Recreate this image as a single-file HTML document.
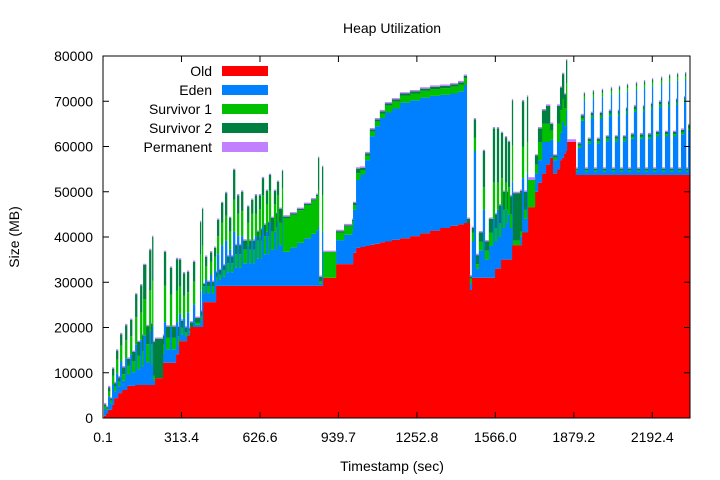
<!DOCTYPE html>
<html><head><meta charset="utf-8"><style>
html,body{margin:0;padding:0;background:#fff;}
svg{display:block;font-family:"Liberation Sans",sans-serif;}
</style></head><body>
<svg id="chart" width="720" height="480" viewBox="0 0 720 480" xmlns="http://www.w3.org/2000/svg">
<rect x="0" y="0" width="720" height="480" fill="#fff"/>
<g id="plot"></g>
<g id="axes"></g>
<text x="392" y="33" font-size="14" text-anchor="middle">Heap Utilization</text>
<text x="392" y="471" font-size="14" text-anchor="middle">Timestamp (sec)</text>
<text x="19" y="237" font-size="14" text-anchor="middle" transform="rotate(-90 19 237)">Size (MB)</text>
<g id="legend"></g>
</svg>
<script>
const times = [0,4,12,20,28,36,44,52,60,68,76,88,96,108,116,128,136,148,156,160,172,184,192,196,200,207,
239,243,251,267,275,291,299,303,311,319,327,335,343,347,359,367,387,391,395,
399,407,415,427,435,443,
451,455,463,471,479,487,495,503,511,519,527,535,543,551,559,575,583,591,599,606,614,622,630,634,642,650,658,662,670,682,690,694,702,714,
718,746,774,802,830,850,858,862,874,878,930,962,994,
998,1010,1026,1046,1065,1085,1105,1125,1153,1185,1225,1265,1305,1345,1385,1417,1440,1452,
1464,1472,1480,1488,1500,1516,1524,1540,1556,1564,1572,1580,1588,1596,1604,1612,1616,1624,1632,1636,1664,1672,1680,1692,1696,1724,1736,1752,1768,1784,1796,1812,1824,1832,1840,1848,1852,1887,
1895,1907,1919,1923,1935,1947,1955,1959,1971,1983,1991,1995,2007,2019,2027,2031,2043,2055,2059,2063,2075,2087,2091,2095,2107,2119,2127,2131,2143,2155,2159,2163,2175,2187,2191,2195,2207,2219,2227,2231,2243,2255,2259,2263,2275,2287,2291,2295,2307,2319,2323,2327,2335];
const oldMB = [0,500,1000,1800,1800,2900,4400,4400,5500,5500,6200,6200,7100,7100,7100,7300,7300,7300,7300,7300,7300,7300,7300,7300,7300,8800,
12200,12200,12200,12200,12200,14100,14100,17000,17000,17000,17000,18300,18300,20100,20100,20100,20100,20100,20100,
25600,25600,25600,25600,25600,25600,
29200,29200,29200,29200,29200,29200,29200,29200,29200,29200,29200,29200,29200,29200,29200,29200,29200,29200,29200,29200,29200,29200,29200,29200,29200,29200,29200,29200,29200,29200,29200,29200,29200,29200,
29200,29200,29200,29200,29200,29200,29200,29200,29200,31000,34000,34000,34000,
36500,37600,37800,38000,38300,38500,38800,39000,39400,39700,40200,40800,41400,42000,42500,42800,43100,43100,
28300,31000,31000,31000,31000,31000,31000,31000,31000,33000,33000,33000,35000,35000,35000,35000,35000,35000,38200,38200,38200,41000,41000,41000,46600,50000,52000,54000,56000,57500,54000,55000,57000,57500,58500,59000,61000,53700,
53700,53700,53700,53700,53700,53700,53700,53700,53700,53700,53700,53700,53700,53700,53700,53700,53700,53700,53700,53700,53700,53700,53700,53700,53700,53700,53700,53700,53700,53700,53700,53700,53700,53700,53700,53700,53700,53700,53700,53700,53700,53700,53700,53700,53700,53700,53700,53700,53700,53700,53700,53700,53700];
const edenMB = [0,1500,800,3000,1500,4500,1500,5500,1500,7000,2000,7000,2500,7000,3000,9000,3500,10000,4000,11000,5000,12000,4500,13000,1000,0,
2000,9000,3000,8000,3000,7000,2000,6000,1500,5000,1000,5000,500,0,5000,500,8000,1500,9000,
2000,5000,2000,6000,2000,7000,
1000,7000,1500,9000,2000,10000,3000,8000,3000,12000,4000,11000,4000,11000,5000,9000,5000,10000,5000,11000,6000,11000,6000,13000,7000,12000,7000,14000,8000,12000,8000,14000,9000,15000,
7500,8500,9500,10500,11500,12300,13000,500,12000,0,5300,6500,7500,
9500,15000,16000,19000,24000,26000,27500,28500,29000,30000,30000,30000,29800,29400,29200,29400,30500,0,
1500,8000,28000,2000,6000,15000,4000,7000,13000,6000,13000,7000,12000,7000,11000,8000,10000,7000,14000,0,2000,12000,3000,13000,0,4000,5000,7000,5000,4000,3000,6000,6000,8000,6000,9000,0,800,
6000,12000,16500,800,7000,12500,17000,800,7000,12500,17300,800,7500,13000,17700,800,7500,13000,18000,800,7500,13500,18400,800,8000,14000,18800,800,8000,14000,19200,800,8000,14500,19600,800,8500,15000,20000,800,8500,15000,20500,800,8500,15500,20800,800,9000,16000,21000,800,10000];
const surv1MB = [0,500,300,1000,500,2000,1000,3000,1000,3500,1500,4000,2000,4000,2500,6000,3000,6000,3500,8000,4000,9000,4500,10000,1000,0,
2000,8000,2500,7000,2500,7000,2000,6000,1500,5000,1000,4500,500,0,5000,500,8000,1000,9000,
1500,3000,1500,3000,1500,3000,
1000,4000,1000,5000,1500,5500,2000,4000,2000,7000,3000,5000,3000,5500,3000,5000,3000,6000,3000,5000,4000,6000,4000,7000,4000,6000,4000,7000,4000,6000,5000,6000,5000,6500,
7500,7200,7200,7300,7300,7500,8000,500,8000,5700,1700,1800,2000,
1000,1500,1000,1000,1000,1000,1000,1500,1500,1500,1500,1500,1500,1500,1500,1500,1500,0,
1000,2000,3000,1000,2000,5000,2000,3000,8000,3000,6000,3000,6000,4000,6000,3000,6000,3000,8000,1000,1000,7000,2000,7000,6000,2000,4000,4000,4000,2000,500,4000,5000,5000,4000,6000,0,300,
500,600,800,300,500,600,800,300,500,600,800,300,500,600,800,300,500,600,800,300,500,600,800,300,500,600,800,300,500,600,800,300,500,600,800,300,500,600,800,300,500,600,800,300,500,600,800,300,500,600,800,300,500];
const surv2MB = [0,500,300,1000,500,1500,800,2000,1000,2500,1500,3300,1500,3600,2000,5000,3000,6000,3500,7500,4000,8800,4500,9700,7500,8700,
2000,7500,2500,6000,2500,7000,2000,6000,1500,5000,1000,4500,500,1000,4400,1000,7200,1000,8100,
500,2000,1000,2000,1000,2000,
1000,3600,1000,4300,1000,5000,1500,3000,1500,6600,2000,4000,2000,4300,2000,3500,2000,3000,2000,4000,2000,3000,2500,3800,2500,3000,3000,3500,3000,3000,3000,3000,3000,3900,
300,300,300,300,300,300,7300,1000,6300,0,300,300,300,
500,1000,500,500,500,500,500,500,500,500,500,500,500,500,500,500,500,900,
500,1000,4000,2000,2000,8000,2000,3000,12000,3000,12000,4000,10000,4000,10000,4000,10000,4000,10000,10500,9000,10000,4000,10000,0,2000,3000,3000,4000,1500,500,4000,5000,5500,3000,5000,0,300,
500,600,700,300,500,600,700,300,500,600,700,300,500,600,700,300,500,600,700,300,500,600,700,300,500,600,700,300,500,600,700,300,500,600,700,300,500,600,700,300,500,600,700,300,500,600,700,300,500,600,700,300,500];
const permMB = [0,300,300,300,300,300,300,300,300,300,300,300,300,300,300,300,300,300,300,300,300,300,300,300,300,300,
300,300,300,300,300,300,300,300,300,300,300,300,300,300,300,300,300,300,300,
300,300,300,300,300,300,
300,300,300,300,300,300,300,300,300,300,300,300,300,300,300,300,300,300,300,300,300,300,300,300,300,300,300,300,300,300,300,300,300,300,
300,300,300,300,300,300,300,300,300,300,300,300,300,
300,300,300,300,300,300,300,300,300,300,300,300,300,300,300,300,300,300,
300,300,300,300,300,300,300,300,300,300,300,300,300,300,300,300,300,300,300,300,300,300,300,300,600,300,300,300,300,300,300,300,300,300,300,300,600,300,
300,300,300,300,300,300,300,300,300,300,300,300,300,300,300,300,300,300,300,300,300,300,300,300,300,300,300,300,300,300,300,300,300,300,300,300,300,300,300,300,300,300,300,300,300,300,300,300,300,300,300,300,300];
const seriesNames = ["Old","Eden","Survivor 1","Survivor 2","Permanent"];
const seriesColors = ["#ff0000","#0080ff","#00c000","#008040","#c080ff"];
const xTickValues = [0.1,313.4,626.6,939.7,1252.8,1566.0,1879.2,2192.4];
const xTickLabels = ["0.1","313.4","626.6","939.7","1252.8","1566.0","1879.2","2192.4"];
const yTickValues = [0,10000,20000,30000,40000,50000,60000,70000,80000];

const X0=103, X1=690, Y0=418, Y1=56, XMAX=2343, YMAX=80000;
const NS="http://www.w3.org/2000/svg";
function xs(t){return X0+(t/XMAX)*(X1-X0);}
function ys(v){return Y0-(v/YMAX)*(Y0-Y1);}
function mk(tag,attrs,parent){const e=document.createElementNS(NS,tag);for(const k in attrs)e.setAttribute(k,attrs[k]);parent.appendChild(e);return e;}

const plot=document.getElementById('plot');
const layers=[oldMB,edenMB,surv1MB,surv2MB,permMB];
const layerNames=["old-area","eden-area","survivor1-area","survivor2-area","permanent-area"];
layers.forEach((arr,li)=>{
  const g=mk('g',{fill:seriesColors[li]},plot);
  
  
  let d='';
  for(let i=0;i<times.length;i++){
    let base=0;for(let k=0;k<li;k++)base+=layers[k][i];
    const v=arr[i]; if(v<=0)continue;
    const xa=xs(times[i]); const xb=xs(i+1<times.length?times[i+1]:XMAX);
    const ya=ys(base+v), yb=ys(base);
    d+=`M${xa.toFixed(2)},${yb.toFixed(2)}H${(xb+0.3).toFixed(2)}V${ya.toFixed(2)}H${xa.toFixed(2)}Z`;
  }
  const p=mk('path',{d:d},g);
  
  
});

const axes=document.getElementById('axes');
const border=mk('rect',{x:X0,y:Y1,width:X1-X0,height:Y0-Y1,fill:'none',stroke:'#000','stroke-width':1},axes);


yTickValues.forEach(v=>{
  const y=ys(v);
  const t1=mk('line',{x1:X0,y1:y,x2:X0+6,y2:y,stroke:'#000'},axes);
  
  
  const t2=mk('line',{x1:X1,y1:y,x2:X1-6,y2:y,stroke:'#000'},axes);
  
  
  const tx=mk('text',{x:X0-10,y:y+5,'font-size':14,'text-anchor':'end'},axes);
  tx.textContent=String(v);
  
  
});
xTickValues.forEach((v,i)=>{
  const x=xs(v);
  const t1=mk('line',{x1:x,y1:Y0,x2:x,y2:Y0-6,stroke:'#000'},axes);
  
  
  const t2=mk('line',{x1:x,y1:Y1,x2:x,y2:Y1+6,stroke:'#000'},axes);
  
  
  const tx=mk('text',{x:x,y:Y0+24,'font-size':14,'text-anchor':'middle'},axes);
  tx.textContent=xTickLabels[i];
  
  
});

const legend=document.getElementById('legend');
seriesNames.forEach((n,i)=>{
  const y=71+i*19;
  const tx=mk('text',{x:212,y:y+5,'font-size':14,'text-anchor':'end'},legend);
  tx.textContent=n;
  
  
  const r=mk('rect',{x:222,y:y-5,width:46,height:10,fill:seriesColors[i]},legend);
  
  
});
</script>
</body></html>
